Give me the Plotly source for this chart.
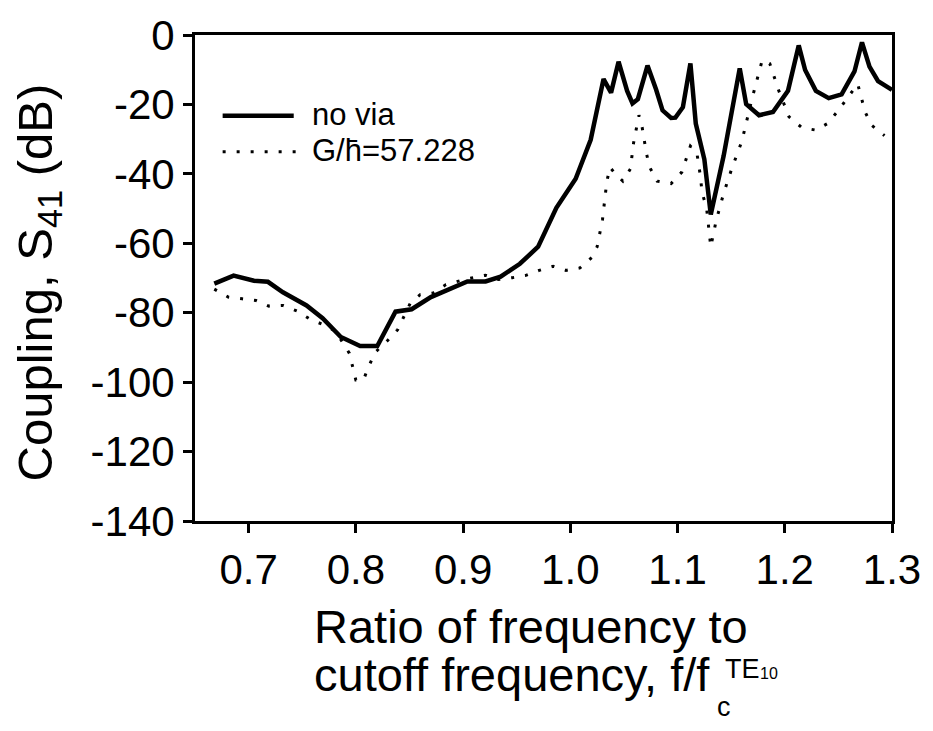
import plotly.graph_objects as go

# ---- data ----
no_via_x = [0.668, 0.686, 0.705, 0.718, 0.732, 0.754, 0.769, 0.786, 0.804, 0.820,
            0.837, 0.852, 0.870, 0.886, 0.904, 0.921, 0.935, 0.953, 0.970, 0.987,
            1.005, 1.019, 1.031, 1.038, 1.045, 1.053, 1.058, 1.063, 1.072, 1.080,
            1.086, 1.094, 1.098, 1.105, 1.112, 1.117, 1.125, 1.131, 1.143, 1.158,
            1.164, 1.176, 1.189, 1.203, 1.213, 1.219, 1.229, 1.241, 1.253, 1.265,
            1.272, 1.279, 1.287, 1.300]
no_via_y = [-71.6, -69.3, -70.8, -71.1, -74.1, -77.9, -81.6, -87.0, -89.6, -89.6,
            -79.7, -79.0, -75.5, -73.5, -71.0, -71.0, -69.6, -65.9, -61.0, -49.8,
            -41.4, -30.2, -12.7, -16.6, -7.7, -16.1, -19.7, -18.5, -8.8, -15.7,
            -21.7, -23.9, -23.8, -20.8, -8.2, -25.5, -35.8, -51.7, -34.8, -9.6,
            -19.9, -23.1, -22.2, -16.1, -3.0, -10.1, -16.1, -18.2, -17.1, -10.5,
            -2.1, -9.1, -13.3, -15.8]

via_x = [0.668, 0.681, 0.694, 0.707, 0.719, 0.732, 0.745, 0.757, 0.770, 0.781,
         0.794, 0.797, 0.800, 0.807, 0.812, 0.818, 0.829, 0.839, 0.845, 0.851,
         0.860, 0.872, 0.884, 0.903, 0.921, 0.933, 0.946, 0.958, 0.971, 0.984,
         0.996, 1.009, 1.020, 1.025, 1.030, 1.034, 1.037, 1.042, 1.049, 1.056,
         1.059, 1.064, 1.067, 1.071, 1.074, 1.081, 1.094, 1.104, 1.112, 1.118,
         1.121, 1.123, 1.127, 1.131, 1.136, 1.143, 1.151, 1.160, 1.169, 1.179,
         1.186, 1.194, 1.204, 1.216, 1.229, 1.240, 1.250, 1.268, 1.275, 1.281,
         1.293]
via_y = [-73.2, -75.5, -76.0, -76.5, -78.1, -77.9, -79.5, -81.8, -83.5, -85.3,
         -91.7, -95.5, -99.4, -99.4, -95.5, -91.4, -88.2, -84.9, -81.1, -77.1,
         -74.8, -74.3, -71.9, -70.3, -69.2, -70.4, -69.9, -69.3, -67.8, -66.6,
         -67.8, -67.1, -64.1, -61.0, -53.2, -42.3, -38.1, -40.0, -42.1, -38.6,
         -31.1, -23.1, -26.6, -34.1, -38.1, -42.1, -42.8, -39.5, -32.0, -33.9,
         -40.0, -45.6, -49.6, -61.0, -53.5, -45.6, -38.1, -30.6, -18.9, -7.2,
         -8.2, -15.7, -23.6, -26.7, -27.4, -25.5, -21.7, -14.1, -22.2, -26.0,
         -29.0]

x_ticks = [0.7, 0.8, 0.9, 1.0, 1.1, 1.2, 1.3]
x_tick_labels = ["0.7", "0.8", "0.9", "1.0", "1.1", "1.2", "1.3"]
y_ticks = [0, -20, -40, -60, -80, -100, -120, -140]
y_tick_labels = ["0", "-20", "-40", "-60", "-80", "-100", "-120", "-140"]

legend_names = ["no via", "G/h\u0304=57.228"]

FONT = "Liberation Sans, Arial, Helvetica, sans-serif"
W, H = 933, 731
L, R, T, B = 195, 32, 22, 210
PW, PH = W - L - R, H - T - B


def px(xp):
    return (xp - L) / PW


def py(yp):
    return (H - B - yp) / PH


fig = go.Figure()
fig.add_trace(go.Scatter(x=no_via_x, y=no_via_y, mode="lines", name=legend_names[0],
                         line=dict(color="black", width=4.5), showlegend=False))
fig.add_trace(go.Scatter(x=via_x, y=via_y, mode="lines", name=legend_names[1],
                         line=dict(color="black", width=3, dash="3px,11px"),
                         showlegend=False))

axis_common = dict(showline=True, linecolor="black", linewidth=3, mirror=True,
                   ticks="outside", ticklen=9, tickwidth=2.5, tickcolor="black",
                   showgrid=False, zeroline=False, ticklabeloverflow="allow",
                   tickfont=dict(family=FONT, size=42, color="black"))

fig.update_xaxes(range=[0.65, 1.3], tickvals=x_ticks, ticktext=x_tick_labels,
                 ticklabelstandoff=1, **axis_common)
fig.update_yaxes(range=[-140, 0], tickvals=y_ticks, ticktext=y_tick_labels,
                 ticklabelstandoff=0, **axis_common)

# legend drawn by hand (long sample lines as in the original)
shapes = [
    dict(type="line", xref="paper", yref="paper", x0=px(223), x1=px(295),
         y0=py(105), y1=py(105), line=dict(color="black", width=4.5)),
    dict(type="line", xref="paper", yref="paper", x0=px(223), x1=px(297),
         y0=py(142), y1=py(142), line=dict(color="black", width=3, dash="3px,11px")),
]

ann = []
ann.append(dict(text=legend_names[0], x=px(311), y=py(104), xref="paper", yref="paper",
                xanchor="left", yanchor="middle", showarrow=False,
                font=dict(family=FONT, size=31, color="black")))
ann.append(dict(text=legend_names[1], x=px(311), y=py(141), xref="paper", yref="paper",
                xanchor="left", yanchor="middle", showarrow=False,
                font=dict(family=FONT, size=31, color="black")))

# x axis title
ann.append(dict(text="Ratio of frequency to", x=px(314), y=py(629), xref="paper", yref="paper",
                xanchor="left", yanchor="middle", showarrow=False,
                font=dict(family=FONT, size=47, color="black")))
ann.append(dict(text="cutoff frequency, f/f", x=px(314), y=py(679), xref="paper", yref="paper",
                xanchor="left", yanchor="middle", showarrow=False,
                font=dict(family=FONT, size=47, color="black")))
ann.append(dict(text="c", x=px(722), y=py(712), xref="paper", yref="paper",
                xanchor="left", yanchor="middle", showarrow=False,
                font=dict(family=FONT, size=27, color="black")))
ann.append(dict(text="TE", x=px(730), y=py(673), xref="paper", yref="paper",
                xanchor="left", yanchor="middle", showarrow=False,
                font=dict(family=FONT, size=27, color="black")))
ann.append(dict(text="10", x=px(765), y=py(678), xref="paper", yref="paper",
                xanchor="left", yanchor="middle", showarrow=False,
                font=dict(family=FONT, size=16, color="black")))

# y axis title
ann.append(dict(text="Coupling, S<sub>41</sub> (dB)", x=px(36), y=py(276), xref="paper",
                yref="paper", xanchor="center", yanchor="middle", textangle=-90,
                showarrow=False, font=dict(family=FONT, size=49, color="black")))

fig.update_layout(width=W, height=H, margin=dict(l=L, r=R, t=T, b=B),
                  paper_bgcolor="white", plot_bgcolor="white",
                  shapes=shapes, annotations=ann, showlegend=False,
                  font=dict(family=FONT, color="black"))

fig.write_html("out.html")
